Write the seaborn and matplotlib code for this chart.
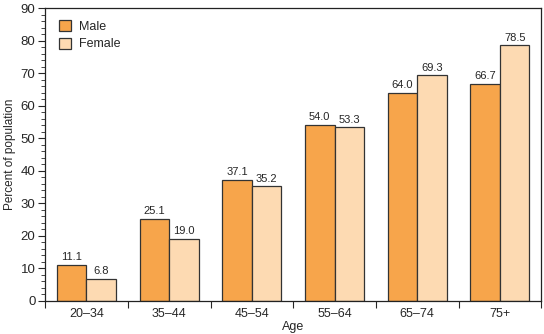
import matplotlib
matplotlib.use("Agg")
import matplotlib.pyplot as plt
import seaborn as sns
import pandas as pd
from matplotlib.ticker import MultipleLocator, FixedLocator

ages = ["20\u201334", "35\u201344", "45\u201354", "55\u201364", "65\u201374", "75+"]
male = [11.1, 25.1, 37.1, 54.0, 64.0, 66.7]
female = [6.8, 19.0, 35.2, 53.3, 69.3, 78.5]

df = pd.DataFrame({
    "Age": ages * 2,
    "Percent": male + female,
    "Sex": ["Male"] * len(ages) + ["Female"] * len(ages),
})

sns.set_style("ticks")
plt.rcParams["font.family"] = ["Liberation Sans", "DejaVu Sans"]

fig = plt.figure(figsize=(5.44, 3.34), dpi=100)
ax = fig.add_axes([0.083, 0.099, 0.912, 0.877])
sns.barplot(data=df, x="Age", y="Percent", hue="Sex",
            palette={"Male": "#F7A54B", "Female": "#FDDAB2"},
            width=0.715, edgecolor="#333333", linewidth=0.9,
            saturation=1, ax=ax)

for cont in ax.containers:
    ax.bar_label(cont, fmt="%.1f", padding=2, fontsize=8)

ax.set_ylim(0, 90)
ax.set_xlim(-0.5, len(ages) - 0.5)
ax.yaxis.set_major_locator(MultipleLocator(10))
ax.yaxis.set_minor_locator(MultipleLocator(2))
ax.xaxis.set_minor_locator(FixedLocator([i + 0.5 for i in range(-1, len(ages))]))
ax.tick_params(axis="x", which="major", length=0, labelsize=9, pad=5)
ax.tick_params(axis="x", which="minor", length=5, width=0.8)
ax.tick_params(axis="y", which="major", length=5, width=0.8, labelsize=9.5, pad=2)
ax.tick_params(axis="y", which="minor", length=3, width=0.6)
for s in ax.spines.values():
    s.set_visible(True)
    s.set_linewidth(0.9)
    s.set_color("#222222")

ax.set_xlabel("Age", fontsize=9, labelpad=1)
ax.set_ylabel("Percent of population", fontsize=8.5, labelpad=3)

leg = ax.legend(loc="upper left", frameon=False, fontsize=9, handlelength=1.0,
                handleheight=1.0, handletextpad=0.6, borderaxespad=0.3, labelspacing=0.4,
                bbox_to_anchor=(0.01, 0.99))

fig.savefig("out.png", dpi=100)
